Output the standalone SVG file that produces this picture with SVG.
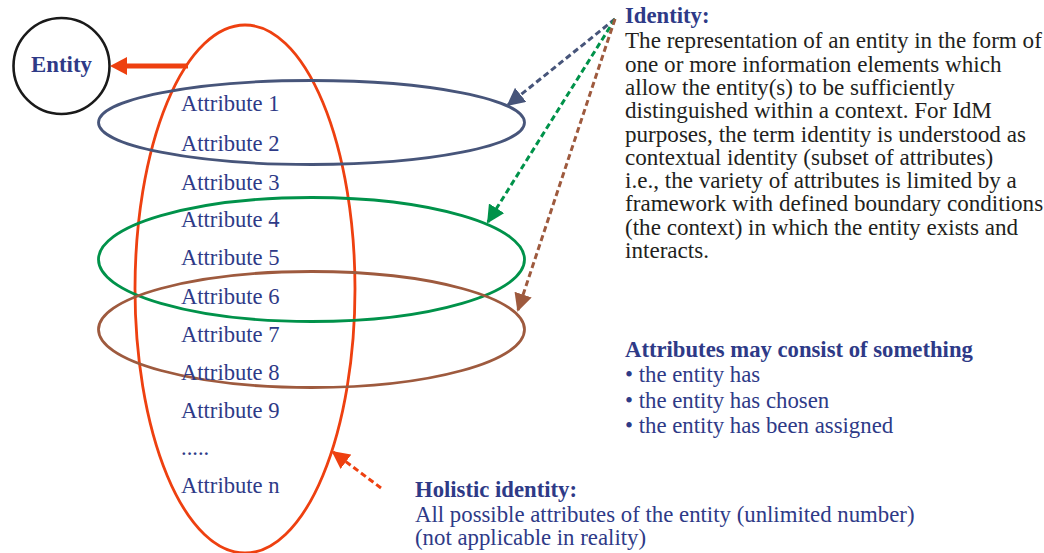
<svg xmlns="http://www.w3.org/2000/svg" width="1044" height="553" viewBox="0 0 1044 553">
<style>
.attr{font-family:"Liberation Serif","Times New Roman",serif;font-size:22.6px;fill:#2E3A87}
.ttl{font-family:"Liberation Serif","Times New Roman",serif;font-size:22.7px;font-weight:bold;fill:#2E3A87}
.body{font-family:"Liberation Serif","Times New Roman",serif;font-size:23.1px;fill:#231F20}
.bl{font-family:"Liberation Serif","Times New Roman",serif;font-size:22.8px;fill:#2E3A87}
.ell{fill:none;stroke-width:2.8}
.dash{fill:none;stroke-width:3;stroke-dasharray:6 3.5}
</style>
<defs>
<marker id="mB" viewBox="0 0 10 10" refX="9" refY="5" markerWidth="6" markerHeight="6" markerUnits="strokeWidth" orient="auto"><path d="M0,0 L10,5 L0,10 z" fill="#47557A"/></marker>
<marker id="mG" viewBox="0 0 10 10" refX="9" refY="5" markerWidth="6" markerHeight="6" markerUnits="strokeWidth" orient="auto"><path d="M0,0 L10,5 L0,10 z" fill="#00924A"/></marker>
<marker id="mR" viewBox="0 0 10 10" refX="9" refY="5" markerWidth="6" markerHeight="6" markerUnits="strokeWidth" orient="auto"><path d="M0,0 L10,5 L0,10 z" fill="#9E5A3E"/></marker>
<marker id="mO" viewBox="0 0 10 10" refX="9" refY="5" markerWidth="6" markerHeight="6" markerUnits="strokeWidth" orient="auto"><path d="M0,0 L10,5 L0,10 z" fill="#EE4010"/></marker>
</defs>

<g id="entity">
<circle cx="61.5" cy="66" r="48" fill="none" stroke="#1A1A1A" stroke-width="2.6"/>
<text x="61.5" y="72" text-anchor="middle" class="ttl" style="font-size:22.8px">Entity</text>
</g>

<g id="holistic-ellipse">
<ellipse cx="245" cy="289" rx="110" ry="264" class="ell" stroke="#EE4010"/>
</g>
<g id="identity-ellipse-1">
<ellipse cx="311.5" cy="122.5" rx="213" ry="42" class="ell" stroke="#47557A"/>
</g>
<g id="identity-ellipse-2">
<ellipse cx="311.5" cy="259.5" rx="213" ry="62" class="ell" stroke="#00924A"/>
</g>
<g id="identity-ellipse-3">
<ellipse cx="311.5" cy="329.5" rx="213" ry="58" class="ell" stroke="#9E5A3E"/>
</g>

<g id="attributes">
<text class="attr" x="181" y="111">Attribute 1</text>
<text class="attr" x="181" y="151">Attribute 2</text>
<text class="attr" x="181" y="190">Attribute 3</text>
<text class="attr" x="181" y="227">Attribute 4</text>
<text class="attr" x="181" y="265">Attribute 5</text>
<text class="attr" x="181" y="304">Attribute 6</text>
<text class="attr" x="181" y="342">Attribute 7</text>
<text class="attr" x="181" y="380">Attribute 8</text>
<text class="attr" x="181" y="418">Attribute 9</text>
<text class="attr" x="181" y="455">.....</text>
<text class="attr" x="181" y="493">Attribute n</text>
</g>

<g id="identity-text">
<text class="ttl" x="625" y="23">Identity:</text>
<text class="body" x="625" y="48">The representation of an entity in the form of</text>
<text class="body" x="625" y="72">one or more information elements which</text>
<text class="body" x="625" y="95">allow the entity(s) to be sufficiently</text>
<text class="body" x="625" y="118">distinguished within a context. For IdM</text>
<text class="body" x="625" y="142">purposes, the term identity is understood as</text>
<text class="body" x="625" y="165">contextual identity (subset of attributes)</text>
<text class="body" x="625" y="188">i.e., the variety of attributes is limited by a</text>
<text class="body" x="625" y="211">framework with defined boundary conditions</text>
<text class="body" x="625" y="235">(the context) in which the entity exists and</text>
<text class="body" x="625" y="258">interacts.</text>
</g>

<g id="attributes-note">
<text class="ttl" x="625" y="357">Attributes may consist of something</text>
<text class="bl" x="625" y="382">• the entity has</text>
<text class="bl" x="625" y="408">• the entity has chosen</text>
<text class="bl" x="625" y="433">• the entity has been assigned</text>
</g>

<g id="holistic-text">
<text class="ttl" x="415" y="497">Holistic identity:</text>
<text class="bl" x="415" y="522">All possible attributes of the entity (unlimited number)</text>
<text class="bl" x="415" y="545">(not applicable in reality)</text>
</g>

<g id="footer">
<text x="925" y="563" style="font-family:'Liberation Sans',Arial,sans-serif;font-size:13px;fill:#555">Y.1252(09)_FM</text>
</g>

<g id="connectors">
<line x1="188" y1="66" x2="124" y2="66" stroke="#EE4010" stroke-width="5"/>
<polygon points="110,66 127,57 127,75" fill="#EE4010"/>
<line x1="615" y1="19" x2="508" y2="105" class="dash" stroke="#47557A" marker-end="url(#mB)"/>
<line x1="615" y1="19" x2="488" y2="222" class="dash" stroke="#00924A" marker-end="url(#mG)"/>
<line x1="615" y1="19" x2="518" y2="310" class="dash" stroke="#9E5A3E" marker-end="url(#mR)"/>
<line x1="381" y1="488" x2="333" y2="452" class="dash" stroke="#EE4010" marker-end="url(#mO)"/>
</g>
</svg>
